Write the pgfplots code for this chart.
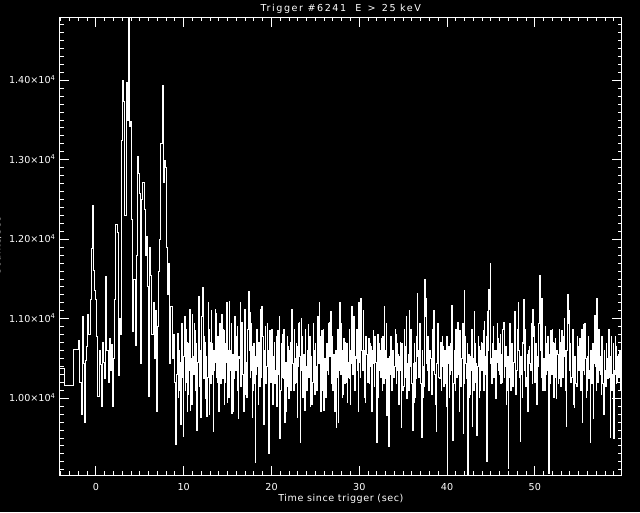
\documentclass[border=0pt]{standalone}
\usepackage{fontspec}
\setmainfont{DejaVu Sans}
\newfontfamily\idlwide{DejaVu Sans}[LetterSpace=6]
\newfontfamily\idltitle{DejaVu Sans}[LetterSpace=16]
\usepackage{pgfplots}
\usepackage{pgfplotstable}
\pgfplotsset{compat=1.18}
\newcommand\idl{\fontsize{9.6}{11}\selectfont}
\newcommand\idlw{\idlwide\fontsize{9.6}{11}\selectfont}
\newcommand\idlt{\idltitle\fontsize{9.6}{11}\selectfont}

% burst part: 0.128 s bins from -1.95 s
\pgfplotstableread[row sep=\\]{
c\\
10730\\10200\\9790\\11030\\10440\\9700\\10470\\10650\\11050\\10800\\
11240\\11890\\12430\\11610\\11360\\11240\\10780\\10020\\10600\\10420\\
9900\\10700\\10450\\10250\\11530\\10600\\10200\\10750\\10350\\10680\\
9900\\10500\\11240\\12180\\12080\\10290\\11000\\10800\\13240\\14000\\
13730\\12300\\13970\\13500\\14792\\13420\\13480\\12250\\10840\\11500\\
10670\\11800\\13040\\12830\\12580\\10440\\12500\\12710\\12370\\11800\\
12030\\11400\\10020\\11900\\11550\\10800\\11200\\10500\\11100\\9830\\
10900\\11600\\12000\\13210\\13930\\12710\\12985\\12900\\11900\\11300\\
11700\\10440\\11150\\10500\\10800\\10200\\9413\\
}\burst

% later part: 0.064 s bins from 9.058 s
\pgfplotstableread[row sep=\\]{
c\\
9413\\10180\\10300\\10775\\10820\\10010\\10100\\10605\\10450\\9670\\
10150\\10945\\10600\\10265\\9520\\10520\\11030\\10095\\10200\\10860\\
10700\\9840\\10050\\10690\\10350\\11115\\9850\\10435\\10500\\9925\\
11050\\10520\\10300\\10945\\10850\\10095\\10100\\10690\\9600\\10350\\
10450\\11285\\10150\\10435\\10600\\9755\\10350\\11030\\11390\\10605\\
10250\\10775\\10700\\10010\\10000\\10520\\9770\\10265\\11200\\10860\\
9800\\10435\\10700\\10180\\11110\\10690\\10300\\9585\\10600\\10350\\
10450\\11115\\11070\\10265\\10200\\10775\\10500\\9840\\10050\\10945\\
10650\\10180\\11050\\10605\\10250\\10860\\10850\\9925\\10200\\10690\\
10450\\11200\\9950\\10435\\10600\\10010\\11220\\10605\\10350\\10945\\
9810\\10265\\10550\\9840\\10250\\11030\\10700\\10350\\10400\\10775\\
10900\\10095\\9750\\10520\\10500\\11200\\10150\\10350\\10950\\10690\\
10300\\9840\\10600\\11115\\10050\\10435\\10450\\10010\\10200\\10860\\
11340\\10605\\11080\\10265\\10350\\10945\\10650\\9755\\10100\\10690\\
10500\\10180\\9190\\10520\\10300\\10860\\10400\\9925\\10700\\10520\\
10150\\11115\\10550\\10265\\11160\\10775\\10300\\9670\\10050\\10605\\
10900\\10180\\10400\\10945\\10600\\10010\\9300\\10435\\10850\\10690\\
10200\\10860\\10500\\9925\\10000\\10520\\10700\\10180\\10350\\10775\\
9900\\10350\\10850\\10605\\10300\\11030\\9500\\10095\\10100\\10690\\
10800\\10265\\10250\\10860\\9700\\10435\\10450\\9840\\10150\\10775\\
10650\\10265\\10000\\10605\\10700\\10095\\10350\\11115\\10900\\10435\\
10100\\10860\\10500\\10180\\10200\\10690\\10650\\9755\\10400\\10945\\
10950\\10520\\9450\\10350\\11000\\10775\\10250\\10010\\10550\\10435\\
9850\\10860\\10400\\10180\\10100\\10605\\10930\\10265\\10300\\10775\\
9900\\10520\\10450\\9925\\10200\\10945\\10600\\10350\\10050\\10690\\
10400\\10095\\10250\\11030\\10650\\10435\\11200\\10775\\10300\\9840\\
10850\\10520\\10100\\10860\\9850\\10265\\10500\\10010\\10200\\10690\\
10600\\10350\\10300\\10945\\10950\\10520\\11090\\10180\\10350\\10775\\
10100\\10435\\10550\\9840\\10250\\10605\\9630\\10265\\10400\\10860\\
9700\\10350\\11200\\10520\\10300\\10945\\10600\\10010\\10050\\10605\\
10750\\10180\\10700\\10435\\10200\\10690\\9950\\10265\\10450\\10860\\
10250\\9925\\10600\\10435\\11150\\10690\\10300\\11030\\10700\\10095\\
10150\\10520\\10500\\10860\\10350\\9840\\11200\\10605\\10450\\10265\\
11260\\10945\\10600\\10350\\11100\\10605\\10300\\10010\\9950\\10775\\
10550\\10265\\10200\\10520\\10750\\10180\\10400\\10690\\10650\\9840\\
10300\\10605\\10850\\10435\\10150\\10775\\10450\\10180\\9440\\10350\\
10800\\10010\\10350\\10690\\10600\\10265\\10750\\10520\\10100\\10775\\
10450\\10180\\11150\\10605\\10250\\10945\\9780\\10350\\10500\\9840\\
9390\\10520\\10300\\10775\\10750\\10095\\10150\\10605\\10600\\10265\\
10400\\10860\\10800\\10180\\10350\\10690\\10550\\9925\\10200\\10520\\
10700\\10350\\9630\\10690\\10350\\10095\\10150\\10860\\10650\\10265\\
10450\\11030\\10000\\10435\\10550\\10095\\11100\\10605\\10400\\10860\\
10600\\10180\\9600\\10435\\9950\\10690\\10450\\10010\\10250\\10775\\
11320\\10520\\10600\\10265\\10300\\10945\\10800\\10180\\9510\\10605\\
10400\\10010\\10150\\10690\\11500\\11030\\11250\\10435\\10350\\10775\\
10650\\10095\\10200\\10605\\10500\\10265\\10050\\10860\\10700\\10350\\
11110\\10690\\10300\\9925\\9580\\10435\\10450\\10945\\10750\\10265\\
10250\\10690\\10700\\10095\\10400\\10775\\10650\\10350\\10150\\10605\\
10500\\10180\\9900\\10775\\9100\\10435\\10650\\10010\\10300\\10690\\
10550\\10350\\11170\\10945\\9470\\10180\\10400\\10605\\10100\\10860\\
10650\\10265\\10950\\10520\\10300\\9840\\10850\\10605\\10150\\10350\\
10500\\10945\\9560\\10180\\11350\\10775\\10600\\10435\\10250\\10690\\
9035\\10265\\10550\\10010\\10050\\10520\\10350\\10860\\9650\\10350\\
10500\\10095\\11090\\10690\\10200\\10435\\9530\\10265\\10400\\10775\\
10650\\10010\\10100\\10605\\10700\\10350\\10350\\10690\\10850\\10095\\
10960\\10520\\10300\\10775\\9200\\10350\\11090\\10605\\11370\\11115\\
11690\\10435\\10500\\10180\\10250\\10690\\10900\\10265\\10600\\10010\\
10000\\10605\\10450\\10945\\10750\\10350\\10300\\10690\\10800\\10180\\
10550\\10435\\10200\\10860\\10950\\10265\\10400\\10605\\10650\\9925\\
10100\\10520\\9120\\10265\\10550\\10945\\10300\\10095\\10650\\10690\\
10150\\10350\\10450\\10775\\11090\\10435\\10050\\10180\\10350\\10860\\
11210\\10605\\10600\\10265\\9460\\10520\\10300\\10010\\10700\\10690\\
11240\\10350\\10400\\10860\\10150\\10265\\10550\\9840\\10250\\10605\\
10650\\10435\\10350\\10945\\10500\\10180\\11120\\10775\\10900\\10350\\
10200\\10690\\10600\\9925\\10050\\10520\\10400\\10945\\11540\\10605\\
10700\\10265\\11250\\10775\\10100\\10435\\10500\\10095\\10900\\10690\\
10300\\10350\\10650\\10775\\9060\\10435\\10550\\10180\\10850\\10605\\
10300\\10860\\10700\\10010\\10450\\10690\\10750\\10265\\10000\\10605\\
10550\\10180\\10250\\10860\\10700\\10435\\10150\\10690\\10850\\10265\\
10400\\10775\\11000\\10520\\10600\\10095\\9650\\10605\\11300\\10945\\
11100\\10350\\10450\\10690\\10200\\10265\\10550\\10860\\10300\\9925\\
9880\\10520\\10500\\10180\\10150\\10775\\10650\\10435\\10350\\10690\\
10750\\10095\\10450\\10860\\9700\\10350\\10930\\10605\\10300\\10945\\
10500\\10010\\10100\\10520\\10400\\10775\\10250\\10350\\9440\\10605\\
10600\\10180\\10350\\10690\\9750\\10435\\11040\\10775\\10400\\10095\\
11250\\10605\\10200\\10860\\10550\\10350\\10300\\10520\\10050\\10775\\
10450\\10180\\9800\\10605\\10350\\10265\\10150\\10690\\10500\\10435\\
10250\\10860\\10600\\10265\\9510\\10520\\10780\\10095\\10300\\10690\\
9500\\10350\\10300\\10775\\10650\\10180\\10200\\10520\\10550\\10265\\
10300\\10605\\10450\\10095\\10150\\10350\\10350\\
}\band

\begin{document}
\begin{tikzpicture}
\fill[black] (-60pt,-37pt) rectangle (580pt,475pt);
\begin{axis}[
  scale only axis, width=561.7pt, height=457.7pt,
  at={(0pt,0pt)}, anchor=south west,
  xmin=-4.1, xmax=59.9, ymin=9035, ymax=14792,
  axis line style={white, line width=1pt},
  every tick/.style={white, line width=1pt},
  major tick length=9.5pt, minor tick length=4pt,
  xtick={0,10,20,30,40,50},
  minor xtick={-4,-3,...,59},
  ytick={10000,11000,12000,13000,14000},
  minor ytick={9100,9200,...,14700},
  yticklabels={1.00×10\textsuperscript{4},1.10×10\textsuperscript{4},1.20×10\textsuperscript{4},1.30×10\textsuperscript{4},1.40×10\textsuperscript{4}},
  scaled y ticks=false,
  /pgf/number format/assume math mode=true,
  tick label style={font=\idl, text=white},
  xticklabel style={anchor=base, yshift=-15pt},
  yticklabel style={anchor=base east, yshift=-3.5pt, xshift=-1pt},
  every axis title/.style={at={(0.5,1)}, anchor=base, yshift=6.3pt, font=\idlt, text=white},
  every axis x label/.style={at={(0.5,0)}, anchor=base, yshift=-26pt, font=\idlw, text=white},
  every axis y label/.style={at={(-0.1060,0.5)}, rotate=90, anchor=base, font=\idlw, text=white},
  title={Trigger \#6241 \ E \,>\, 25 keV},
  xlabel={Time since trigger (sec)},
  ylabel={Counts/sec},
]
\addplot[white, line width=1pt, const plot] coordinates {(-4.1,10377) (-3.57,10167) (-2.55,10616) (-1.95,10730)};
\addplot[white, line width=1pt, const plot] table[x expr=\coordindex*0.128-1.95, y=c] {\burst};
\addplot[white, line width=1pt, const plot] table[x expr=\coordindex*0.064+9.058, y=c] {\band};
\end{axis}
\pgfresetboundingbox
\useasboundingbox (-60pt,-37pt) rectangle (580pt,475pt);
\end{tikzpicture}
\end{document}
